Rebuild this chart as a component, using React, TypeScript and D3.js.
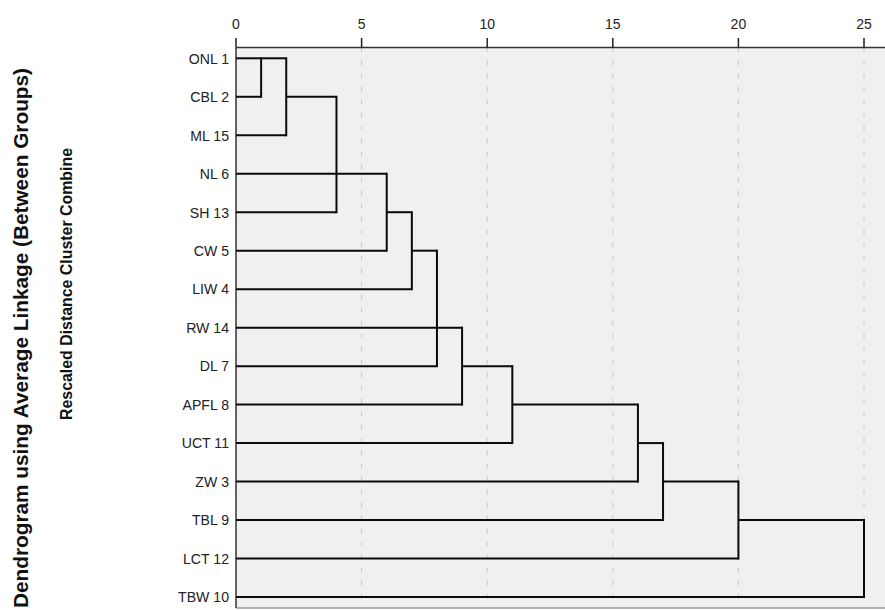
import React from "react";
import * as d3 from "d3";

const leafLabels = ["ONL 1", "CBL 2", "ML 15", "NL 6", "SH 13", "CW 5", "LIW 4", "RW 14", "DL 7", "APFL 8", "UCT 11", "ZW 3", "TBL 9", "LCT 12", "TBW 10"];
// SPSS-style merges: rescaled distance, top row, bottom row, output row
const mergeHeights = [1, 2, 4, 6, 7, 8, 9, 11, 16, 17, 20, 25];
const mergeTop = [0, 0, 1, 3, 4, 5, 7, 8, 9, 10, 11, 12];
const mergeBottom = [1, 2, 4, 5, 6, 8, 9, 10, 11, 12, 13, 14];
const mergeOut = [0, 1, 3, 4, 5, 7, 8, 9, 10, 11, 12, -1];
const xTicks = [0, 5, 10, 15, 20, 25];
const titleText = "Dendrogram using Average Linkage (Between Groups)";
const axisTitle = "Rescaled Distance Cluster Combine";

const W = 885, H = 610;
const plotLeft = 236, plotRight = 885, plotTop = 47.5, plotBottom = 608;

export default function App() {
  const x = d3.scaleLinear().domain([0, 25]).range([236, 864]);
  const y = d3.scalePoint<string>().domain(leafLabels).range([58.3, 597]).padding(0);
  const yr = (i: number) => y(leafLabels[i]) as number;

  const hSegs: { x1: number; x2: number; y: number }[] = [];
  const vSegs: { x: number; y1: number; y2: number }[] = [];
  const start = leafLabels.map(() => 0);
  const pending = leafLabels.map(() => true);
  mergeHeights.forEach((h, i) => {
    [mergeTop[i], mergeBottom[i]].forEach((r) => {
      if (pending[r]) {
        hSegs.push({ x1: x(start[r]), x2: x(h), y: yr(r) });
        pending[r] = false;
      }
    });
    vSegs.push({ x: x(h), y1: yr(mergeTop[i]), y2: yr(mergeBottom[i]) });
    const o = mergeOut[i];
    if (o >= 0 && !pending[o]) {
      start[o] = h;
      pending[o] = true;
    }
  });

  const font = "'Liberation Sans', Arial, sans-serif";
  return (
    <svg width={W} height={H} style={{ position: "absolute", left: 0, top: 0, background: "#fff" }}>
      <rect x={plotLeft} y={plotTop} width={plotRight - plotLeft} height={plotBottom - plotTop} fill="#f0f0f0" />
      {xTicks.filter((t) => t > 0).map((t) => (
        <line key={"g" + t} x1={x(t)} x2={x(t)} y1={plotTop} y2={plotBottom} stroke="#c8c8c8" strokeWidth={1} strokeDasharray="5,8" />
      ))}
      <line x1={plotLeft} x2={plotRight} y1={plotBottom} y2={plotBottom} stroke="#9a9a9a" strokeWidth={1.5} />
      <line x1={plotLeft} x2={plotLeft} y1={plotTop} y2={plotBottom} stroke="#333" strokeWidth={1.5} />
      <line x1={plotLeft} x2={plotRight} y1={plotTop} y2={plotTop} stroke="#333" strokeWidth={1.5} />
      {xTicks.map((t) => (
        <g key={"t" + t}>
          <line x1={x(t)} x2={x(t)} y1={38} y2={plotTop} stroke="#222" strokeWidth={1.5} />
          <text x={x(t)} y={29} textAnchor="middle" fontFamily={font} fontSize={14} fill="#222">{t}</text>
        </g>
      ))}
      {hSegs.map((s, i) => (
        <line key={"h" + i} x1={s.x1} x2={s.x2} y1={s.y} y2={s.y} stroke="#0a0a0a" strokeWidth={2} />
      ))}
      {vSegs.map((s, i) => (
        <line key={"v" + i} x1={s.x} x2={s.x} y1={s.y1 - 1} y2={s.y2 + 1} stroke="#0a0a0a" strokeWidth={2} />
      ))}
      {leafLabels.map((l) => (
        <text key={l} transform={`translate(229,${(y(l) as number) + 5.3}) scale(0.94,1)`} textAnchor="end" fontFamily={font} fontSize={15} fill="#222">{l}</text>
      ))}
      <text transform="translate(28,338) rotate(-90)" textAnchor="middle" fontFamily={font} fontSize={20} fontWeight="bold" fill="#111" textLength={540} lengthAdjust="spacingAndGlyphs">{titleText}</text>
      <text transform="translate(72,284) rotate(-90)" textAnchor="middle" fontFamily={font} fontSize={17} fontWeight="bold" fill="#111" textLength={272} lengthAdjust="spacingAndGlyphs">{axisTitle}</text>
    </svg>
  );
}
